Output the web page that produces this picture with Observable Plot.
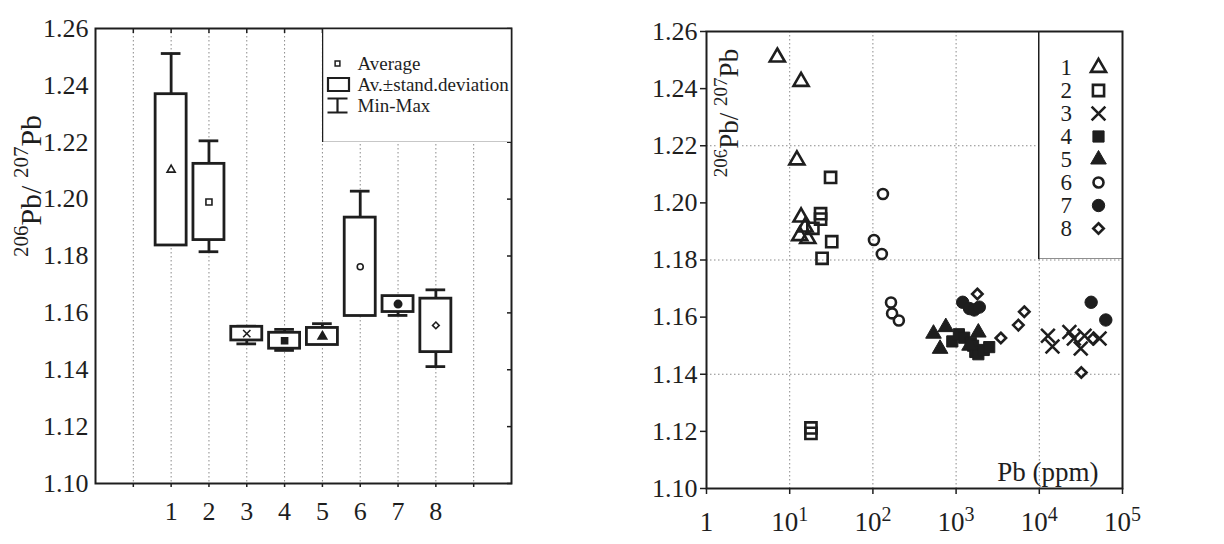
<!DOCTYPE html>
<html><head><meta charset="utf-8">
<script src="https://cdn.jsdelivr.net/npm/d3@7"></script>
<script src="https://cdn.jsdelivr.net/npm/@observablehq/plot@0.6"></script>
<style>
html,body{margin:0;padding:0;background:#fff;}
#wrap{display:flex;width:1224px;height:544px;overflow:hidden;}
.panel{position:relative;width:612px;height:544px;}
.legend{position:absolute;}
svg text, svg tspan{font-family:'Liberation Serif','Times New Roman',serif !important;}
</style></head><body>
<div id="wrap"><div class="panel" id="left"></div><div class="panel" id="right"></div></div>
<script>
// ---------- data ----------
const groups = ["1","2","3","4","5","6","7","8"];
const groupSymbols = ["triangle","square","times","square","triangle","circle","circle","diamond2"];
const groupFilled = [false,false,false,true,true,false,true,false];

// left panel: average, standard deviation, min, max per group
const boxMean = [1.2103,1.1990,1.1527,1.1502,1.1517,1.1762,1.1631,1.1556];
const boxSd   = [0.0266,0.0134,0.0024,0.0028,0.0030,0.0173,0.0028,0.0094];
const boxMin  = [1.1875,1.1815,1.1491,1.1468,1.1489,1.1590,1.1591,1.1411];
const boxMax  = [1.2512,1.2205,1.1553,1.1542,1.1562,1.2028,1.1658,1.1681];

// right panel: Pb (ppm) and 206Pb/207Pb per group
const pb1 = [7.1, 13.7, 12.2, 13.7, 13.2, 15.3, 16.5];
const r1  = [1.2510, 1.2425, 1.2150, 1.1950, 1.1885, 1.1915, 1.1875];
const pb2 = [31, 23.5, 23.5, 19, 32, 24.5, 18, 18];
const r2  = [1.2089, 1.1962, 1.1943, 1.1911, 1.1864, 1.1806, 1.1212, 1.1193];
const pb3 = [12700, 14400, 23000, 26000, 31500, 35000, 53000];
const r3  = [1.1535, 1.1497, 1.1548, 1.1525, 1.1490, 1.1535, 1.1525];
const pb4 = [900, 1080, 1250, 1500, 1600, 1700, 1850, 2150, 2500];
const r4  = [1.1515, 1.1540, 1.1528, 1.1510, 1.1500, 1.1478, 1.1470, 1.1485, 1.1495];
const pb5 = [535, 752, 642, 1850, 1450];
const r5  = [1.1542, 1.1565, 1.1489, 1.1546, 1.1500];
const pb6 = [103, 128, 132, 165, 170, 205];
const r6  = [1.1870, 1.1821, 1.2031, 1.1651, 1.1613, 1.1588];
const pb7 = [1200, 1450, 1650, 1900, 42000, 63000];
const r7  = [1.1652, 1.1630, 1.1625, 1.1635, 1.1652, 1.1590];
const pb8 = [1800, 3450, 5600, 6600, 32000, 44000];
const r8  = [1.1681, 1.1527, 1.1572, 1.1619, 1.1406, 1.1524];

const yTicks = [1.10,1.12,1.14,1.16,1.18,1.20,1.22,1.24,1.26];
const catTicks = [0,1,2,3,4,5,6,7,8,9];
const pbTicks = [1,10,100,1000,10000,100000];
const pbGrid = [10,100,1000,10000];
const ratioGrid = [1.14,1.18,1.22];
const legendRows = ["Average","Av.\u00B1stand.deviation","Min-Max"];
const xTitle = "Pb (ppm)";

// ---------- styling ----------
const FONT = "'Liberation Serif','Times New Roman',serif";
const INK = "#1e1e1e";
const dotted = {stroke:"#8a8a8a", strokeOpacity:1, strokeDasharray:"1.5,2.5", strokeWidth:1};
const rRight = [5.6, 6.3, 6.3, 6.3, 5.8, 5.0, 6.2, 4.7];
const rLeft  = [3.0, 3.4, 3.4, 3.4, 3.2, 3.0, 3.7, 3.0];
const boxHalf = 0.41, capHalf = 0.26;
const txt = {fontFamily:FONT, fill:INK};

const stats = groups.map((g,i)=>({g:i+1, mean:boxMean[i], lo:boxMean[i]-boxSd[i], hi:boxMean[i]+boxSd[i], min:boxMin[i], max:boxMax[i]}));
const scatter = [[pb1,r1],[pb2,r2],[pb3,r3],[pb4,r4],[pb5,r5],[pb6,r6],[pb7,r7],[pb8,r8]]
  .map(([p,r])=>p.map((v,j)=>({pb:v, ratio:r[j]})));

// ---------- left panel ----------
const lineStyle = {stroke:INK, strokeWidth:2.8};
const left = Plot.plot({
  width:612, height:544, marginLeft:95, marginRight:101, marginTop:28, marginBottom:61,
  style:{fontFamily:FONT, fontSize:"26px", color:INK, background:"white"},
  x:{type:"linear", domain:[-1,10]},
  y:{domain:[1.10,1.26]},
  marks:[
    Plot.gridX(catTicks, dotted),
    Plot.ruleX(stats.filter(d=>d.max>d.hi+1e-4), {x:"g", y1:"hi", y2:"max", ...lineStyle}),
    Plot.ruleX(stats.filter(d=>d.min<d.lo-1e-4), {x:"g", y1:"lo", y2:"min", ...lineStyle}),
    Plot.ruleY(stats.filter(d=>d.max>=d.hi-1e-4), {y:"max", x1:d=>d.g-capHalf, x2:d=>d.g+capHalf, ...lineStyle}),
    Plot.ruleY(stats.filter(d=>d.min<=d.lo+1e-4), {y:"min", x1:d=>d.g-capHalf, x2:d=>d.g+capHalf, ...lineStyle}),
    Plot.rect(stats, {x1:d=>d.g-boxHalf, x2:d=>d.g+boxHalf, y1:"lo", y2:"hi", fill:"white", ...lineStyle}),
    ...stats.map((s,i)=>Plot.dot([s], {x:"g", y:"mean", symbol:groupSymbols[i], r:rLeft[i],
       fill: groupFilled[i]?INK:"none", stroke:INK, strokeWidth:1.6})),
    Plot.axisY(yTicks, {anchor:"left", tickSize:0, tickPadding:7, tickFormat:d3.format(".2f"), label:null, fontSize:26, ...txt}),
    Plot.axisY(yTicks, {anchor:"right", tickSize:-5, tickFormat:()=>"", label:null, strokeWidth:1.5}),
    Plot.axisX(catTicks, {anchor:"bottom", tickSize:4, tickPadding:14, tickFormat:d=>(d>=1&&d<=8)?String(d):"", label:null, fontSize:26, strokeWidth:1.5, ...txt}),
    Plot.axisX(catTicks, {anchor:"top", tickSize:-4, tickFormat:()=>"", label:null, strokeWidth:1.5}),
    Plot.frame({stroke:INK, strokeWidth:2})
  ]
});
document.getElementById("left").appendChild(left);

// ---------- right panel ----------
const right = Plot.plot({
  width:612, height:544, marginLeft:94, marginRight:102, marginTop:31, marginBottom:56,
  style:{fontFamily:FONT, fontSize:"26px", color:INK, background:"white"},
  x:{type:"log", domain:[1,1e5]},
  y:{domain:[1.10,1.26]},
  marks:[
    Plot.gridX(pbGrid, dotted),
    Plot.gridY(ratioGrid, dotted),
    ...scatter.map((pts,i)=>Plot.dot(pts, {x:"pb", y:"ratio", symbol:groupSymbols[i], r:rRight[i],
       fill: groupFilled[i]?INK:"none", stroke:INK, strokeWidth: groupFilled[i]?1:2.6})),
    Plot.text([xTitle], {text:d=>d, frameAnchor:"bottom-right", dx:-24, dy:-8, textAnchor:"end", lineAnchor:"bottom", fontSize:27, ...txt}),
    Plot.axisY(yTicks, {anchor:"left", tickSize:6, tickPadding:3, tickFormat:d3.format(".2f"), label:null, fontSize:26, strokeWidth:1.5, ...txt}),
    Plot.axisX(pbTicks, {anchor:"bottom", tickSize:6, tickPadding:17, tickFormat:d=>d===1?"1":"10^"+Math.round(Math.log10(d)), label:null, fontSize:27, strokeWidth:1.5, ...txt}),
    Plot.frame({stroke:INK, strokeWidth:2})
  ]
});
document.getElementById("right").appendChild(right);

// superscripts in log tick labels
d3.select(right).selectAll("text").each(function(){
  const t = this.textContent;
  if (t.includes("^")) {
    const [b,e] = t.split("^");
    const sel = d3.select(this); sel.text("");
    sel.append("tspan").text(b);
    sel.append("tspan").attr("font-size", 20).attr("dy", "-0.5em").text(e);
  }
});

// rotated y labels with superscripts
function yLabel(svg, x, y, fs, ss, halo) {
  const t = d3.select(svg).append("text")
    .attr("transform", `translate(${x},${y}) rotate(-90)`)
    .attr("text-anchor","middle").attr("font-family",FONT).attr("fill",INK).attr("font-size",fs);
  if (halo) t.attr("stroke","white").attr("stroke-width",6).attr("paint-order","stroke");
  const up = fs*0.42;
  t.append("tspan").attr("font-size",ss).attr("dy",-up).text("206");
  t.append("tspan").attr("dy",up).text("Pb/ ");
  t.append("tspan").attr("font-size",ss).attr("dy",-up).text("207");
  t.append("tspan").attr("dy",up).text("Pb");
}
yLabel(left, 41, 186, 30, 21, false);
yLabel(right, 738-612, 113, 27, 19, true);

// ---------- left legend ----------
const boxSym = {draw(ctx){ ctx.rect(-10.5,-6.5,21,13); }};
const whiskSym = {draw(ctx){ ctx.moveTo(-10,-7); ctx.lineTo(10,-7); ctx.moveTo(0,-7); ctx.lineTo(0,7); ctx.moveTo(-10,7); ctx.lineTo(10,7); }};
const legL = Plot.plot({
  width:189, height:114, margin:0,
  style:{fontFamily:FONT, fontSize:"19px", color:INK, background:"white"},
  y:{type:"point", domain:legendRows, range:[24,88], axis:null},
  marks:[
    Plot.frame({fill:"white", stroke:INK, strokeWidth:1.5}),
    Plot.dot([legendRows[0]], {y:d=>d, frameAnchor:"left", dx:15, symbol:"square", r:2.7, fill:"none", stroke:INK, strokeWidth:1.5}),
    Plot.dot([legendRows[1]], {y:d=>d, frameAnchor:"left", dx:16, symbol:boxSym, fill:"none", stroke:INK, strokeWidth:2.2}),
    Plot.dot([legendRows[2]], {y:d=>d, frameAnchor:"left", dx:15, symbol:whiskSym, fill:"none", stroke:INK, strokeWidth:2.2}),
    Plot.text(legendRows, {y:d=>d, text:d=>d, frameAnchor:"left", dx:35, textAnchor:"start", fontSize:19, ...txt})
  ]
});
legL.classList.add("legend");
legL.style.left = "322px"; legL.style.top = "28px";
document.getElementById("left").appendChild(legL);

// ---------- right legend ----------
const legR = Plot.plot({
  width:84, height:228, margin:0,
  style:{fontFamily:FONT, fontSize:"22px", color:INK, background:"white"},
  y:{type:"point", domain:groups, range:[22,210], axis:null},
  marks:[
    Plot.frame({fill:"white", stroke:INK, strokeWidth:2}),
    Plot.text(groups, {y:d=>d, text:d=>d, frameAnchor:"left", dx:22, fontSize:23, ...txt}),
    ...groups.map((g,i)=>Plot.dot([g], {y:d=>d, frameAnchor:"left", dx:60, symbol:groupSymbols[i], r:rRight[i],
       fill: groupFilled[i]?INK:"none", stroke:INK, strokeWidth: groupFilled[i]?1:2.6}))
  ]
});
legR.classList.add("legend");
legR.style.left = (1038-612)+"px"; legR.style.top = "31px";
document.getElementById("right").appendChild(legR);
</script>
</body></html>
